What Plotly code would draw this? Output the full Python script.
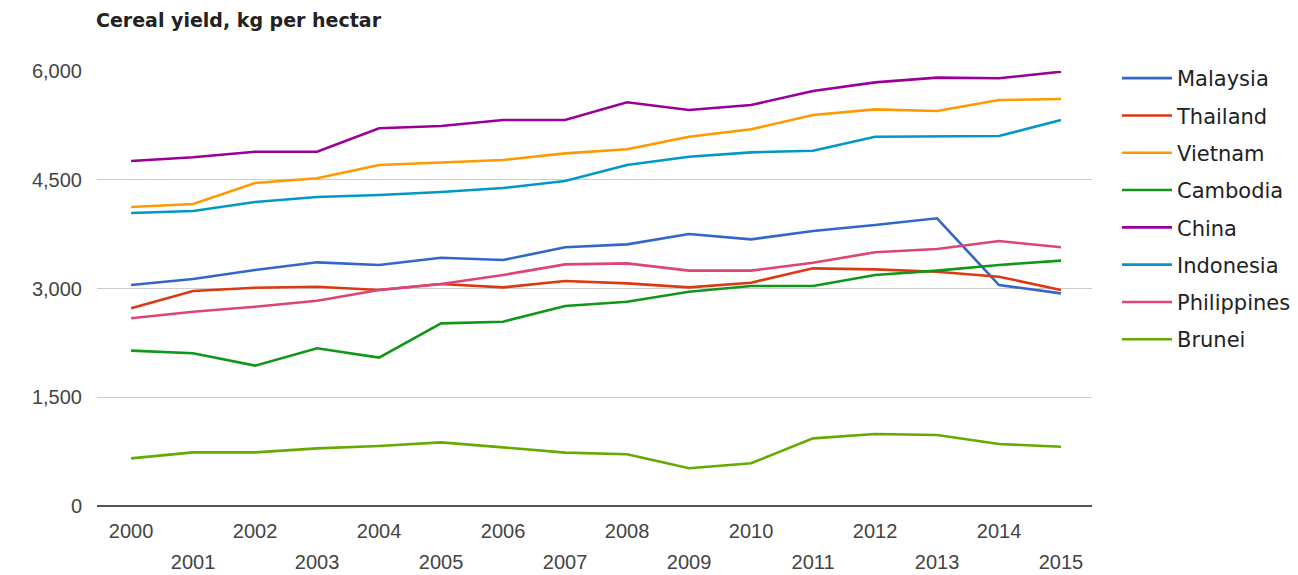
import plotly.graph_objects as go

years = list(range(2000, 2016))

malaysia = [3048, 3131, 3255, 3361, 3324, 3425, 3393, 3568, 3609, 3752, 3678, 3793, 3876, 3968, 3048, 2933]
thailand = [2726, 2966, 3011, 3025, 2980, 3062, 3016, 3103, 3071, 3016, 3080, 3278, 3264, 3232, 3163, 2979]
vietnam = [4124, 4166, 4455, 4520, 4703, 4735, 4772, 4864, 4920, 5094, 5196, 5393, 5471, 5448, 5600, 5614]
cambodia = [2143, 2106, 1936, 2175, 2046, 2519, 2542, 2759, 2818, 2956, 3034, 3034, 3186, 3246, 3324, 3384]
china = [4759, 4810, 4887, 4887, 5210, 5241, 5324, 5324, 5568, 5462, 5531, 5724, 5843, 5908, 5899, 5990]
indonesia = [4041, 4069, 4193, 4262, 4290, 4331, 4386, 4483, 4703, 4818, 4878, 4901, 5094, 5094, 5103, 5324]
philippines = [2589, 2680, 2749, 2832, 2979, 3062, 3186, 3333, 3347, 3246, 3246, 3356, 3499, 3545, 3655, 3568]
brunei = [657, 740, 740, 795, 828, 878, 809, 736, 713, 520, 589, 933, 993, 979, 855, 818]

names = ["Malaysia", "Thailand", "Vietnam", "Cambodia", "China", "Indonesia", "Philippines", "Brunei"]
series = [malaysia, thailand, vietnam, cambodia, china, indonesia, philippines, brunei]
colors = ["#3366cc", "#dc3912", "#ff9900", "#109618", "#990099", "#0099c6", "#dd4477", "#66aa00"]

y_ticks = [0, 1500, 3000, 4500, 6000]
y_ticktext = ["0", "1,500", "3,000", "4,500", "6,000"]
even_years = [y for y in years if y % 2 == 0]
odd_years = [y for y in years if y % 2 == 1]

FONT = "Liberation Sans, Arial, sans-serif"
WIDE = "DejaVu Sans, Liberation Sans, sans-serif"
W, H = 1290, 567  # page body has an 8px margin
ML, MR, MT, MB = 89, 206, 63, 69
PW = W - ML - MR
PH = H - MT - MB

fig = go.Figure()
for name, vals, col in zip(names, series, colors):
    fig.add_trace(go.Scatter(
        x=years, y=vals, name=name, mode="lines",
        line=dict(color=col, width=2.6), legendgroup=name,
    ))
# invisible trace to anchor the secondary x axis (odd-year labels)
fig.add_trace(go.Scatter(x=[years[0]], y=[None], xaxis="x2", showlegend=False,
                         hoverinfo="skip", mode="lines"))

xrange = [1999.45, 2015.5]
tickfont = dict(family=FONT, size=20, color="#444444")

fig.update_layout(
    width=W, height=H,
    margin=dict(l=ML, r=MR, t=MT, b=MB, autoexpand=False),
    paper_bgcolor="white", plot_bgcolor="white",
    font=dict(family=FONT, color="#444444", size=20),
    title=dict(text="<b>Cereal yield, kg per hectar</b>", x=88 / W, xanchor="left",
               y=1 - 12 / H, yanchor="middle",
               font=dict(family=WIDE, size=19, color="#222222")),
    xaxis=dict(range=xrange, tickvals=even_years, ticktext=[str(y) for y in even_years],
               showgrid=False, zeroline=False, showline=False, ticks="", automargin=False,
               ticklabelstandoff=11, tickfont=tickfont),
    xaxis2=dict(range=xrange, overlaying="x", side="bottom", anchor="y",
                tickvals=odd_years, ticktext=[str(y) for y in odd_years],
                showgrid=False, zeroline=False, showline=False, ticks="", automargin=False,
                ticklabelstandoff=42, tickfont=tickfont),
    yaxis=dict(range=[0, 6000], tickvals=y_ticks, ticktext=y_ticktext,
               showgrid=True, gridcolor="#cccccc", gridwidth=1,
               zeroline=True, zerolinecolor="#555555", zerolinewidth=2,
               showline=False, ticks="", ticklabelstandoff=14, automargin=False,
               tickfont=tickfont),
    legend=dict(x=(1109 - ML) / PW, yref="container", y=1 - 50 / H,
                yanchor="top", xanchor="left", maxheight=460,
                font=dict(family=WIDE, size=21, color="#222222"),
                tracegroupgap=7, itemwidth=50, bgcolor="rgba(0,0,0,0)"),
    showlegend=True,
)

fig.write_html("out.html")
